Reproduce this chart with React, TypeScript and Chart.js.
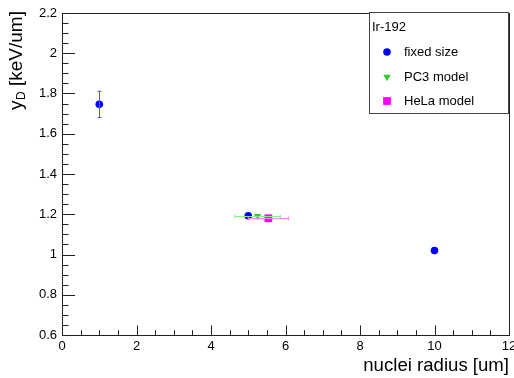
import React, { useEffect, useRef } from "react";
import { Chart, registerables } from "chart.js";

Chart.register(...registerables);

// ---- data ----
const fixedX = [1, 5, 10];
const fixedY = [1.746, 1.192, 1.02];
const fixedYErr = [0.065, 0, 0];

const pc3X = [5.25];
const pc3Y = [1.19];
const pc3XErr = [0.61];

const helaX = [5.54];
const helaY = [1.18];
const helaXErr = [0.54];

const xTickValues = [0, 2, 4, 6, 8, 10, 12];
const yTickValues = [0.6, 0.8, 1, 1.2, 1.4, 1.6, 1.8, 2, 2.2];

const legendTitle = "Ir-192";
const seriesLabels = ["fixed size", "PC3 model", "HeLa model"];
const xTitle = "nuclei radius [um]";

const FONT = "'Liberation Sans', Arial, Helvetica, sans-serif";
const BLUE = "#0000ff";
const GREEN = "#33cc33";
const MAGENTA = "#ff00ff";

const errorBarPlugin = {
  id: "errorBars",
  afterDatasetsDraw(chart: any) {
    const { ctx, scales } = chart;
    const xs = scales.x;
    const ys = scales.y;
    ctx.save();
    ctx.lineWidth = 1;
    ctx.strokeStyle = "#4f4fff";
    fixedX.forEach((x, i) => {
      const e = fixedYErr[i];
      if (!e) return;
      const px = Math.round(xs.getPixelForValue(x)) + 0.5;
      const top = ys.getPixelForValue(fixedY[i] + e);
      const bot = ys.getPixelForValue(fixedY[i] - e);
      ctx.beginPath();
      ctx.moveTo(px, top);
      ctx.lineTo(px, bot);
      ctx.moveTo(px - 2, top);
      ctx.lineTo(px + 2, top);
      ctx.moveTo(px - 2, bot);
      ctx.lineTo(px + 2, bot);
      ctx.stroke();
    });
    const horiz = (xv: number[], yv: number[], ev: number[], color: string) => {
      ctx.strokeStyle = color;
      xv.forEach((x, i) => {
        const py = Math.round(ys.getPixelForValue(yv[i])) + 0.5;
        const l = xs.getPixelForValue(x - ev[i]);
        const r = xs.getPixelForValue(x + ev[i]);
        ctx.beginPath();
        ctx.moveTo(l, py);
        ctx.lineTo(r, py);
        ctx.moveTo(l, py - 2);
        ctx.lineTo(l, py + 2);
        ctx.moveTo(r, py - 2);
        ctx.lineTo(r, py + 2);
        ctx.stroke();
      });
    };
    horiz(pc3X, pc3Y, pc3XErr, "#88ee88");
    horiz(helaX, helaY, helaXErr, "#ff88ff");
    ctx.restore();
  },
};

const framePlugin = {
  id: "rootFrame",
  beforeDatasetsDraw(chart: any) {
    const { ctx, chartArea, scales } = chart;
    const { left, right, top, bottom } = chartArea;
    ctx.save();
    ctx.strokeStyle = "#222";
    ctx.lineWidth = 1;
    ctx.strokeRect(left + 0.5, top + 0.5, right - left, bottom - top);
    ctx.beginPath();
    const ys = scales.y;
    for (let k = 0; k <= 32; k++) {
      const v = 0.6 + k * 0.05;
      const py = Math.round(ys.getPixelForValue(v)) + 0.5;
      const len = k % 4 === 0 ? 13 : 6.5;
      ctx.moveTo(left, py);
      ctx.lineTo(left + len, py);
    }
    const xs = scales.x;
    for (let k = 0; k <= 24; k++) {
      const v = k * 0.5;
      const px = Math.round(xs.getPixelForValue(v)) + 0.5;
      const len = k % 4 === 0 ? 9.5 : 4.8;
      ctx.moveTo(px, bottom);
      ctx.lineTo(px, bottom - len);
    }
    ctx.stroke();
    ctx.restore();
  },
  afterDraw(chart: any) {
    const { ctx } = chart;
    ctx.save();
    ctx.translate(21.5, 110);
    ctx.rotate(-Math.PI / 2);
    ctx.fillStyle = "#000";
    ctx.textBaseline = "alphabetic";
    ctx.textAlign = "left";
    ctx.font = `19px ${FONT}`;
    ctx.fillText("y", 0, 0);
    let w = ctx.measureText("y").width;
    ctx.font = `12px ${FONT}`;
    ctx.fillText("D", w + 0.5, 3.5);
    w += ctx.measureText("D").width + 0.5;
    ctx.font = `19px ${FONT}`;
    ctx.fillText(" [keV/um]", w, 0);
    ctx.restore();

    ctx.save();
    const bx = 369.5, by = 12.5, bw = 139, bh = 101;
    ctx.fillStyle = "#fff";
    ctx.fillRect(bx, by, bw, bh);
    ctx.strokeStyle = "#444";
    ctx.lineWidth = 1;
    ctx.strokeRect(bx, by, bw, bh);
    ctx.fillStyle = "#000";
    ctx.font = `13px ${FONT}`;
    ctx.textBaseline = "middle";
    ctx.textAlign = "left";
    ctx.fillText(legendTitle, 372, 27);
    const rows = [52, 77, 101];
    chart.data.datasets.forEach((ds: any, i: number) => {
      const y = rows[i];
      ctx.fillStyle = "#000";
      ctx.fillText(seriesLabels[i], 404, y);
      ctx.fillStyle = ds.backgroundColor;
      const style = ds.pointStyle;
      ctx.beginPath();
      if (style === "circle") {
        ctx.arc(387, y, ds.pointRadius, 0, Math.PI * 2);
      } else if (style === "triangle") {
        const r = ds.pointRadius;
        ctx.moveTo(387, y + r);
        ctx.lineTo(387 - r * 0.866, y - r / 2);
        ctx.lineTo(387 + r * 0.866, y - r / 2);
        ctx.closePath();
      } else {
        const s = ds.pointRadius * Math.SQRT1_2;
        ctx.rect(387 - s, y - s, 2 * s, 2 * s);
      }
      ctx.fill();
    });
    ctx.restore();
  },
};

export default function App() {
  const ref = useRef<HTMLCanvasElement>(null);
  useEffect(() => {
    document.body.style.margin = "0";
    const canvas = ref.current;
    if (!canvas) return;
    const chart = new Chart(canvas, {
      type: "scatter",
      data: {
        datasets: [
          {
            label: seriesLabels[0],
            data: fixedX.map((x, i) => ({ x, y: fixedY[i] })),
            pointStyle: "circle",
            pointRadius: 3.8,
            backgroundColor: BLUE,
            borderWidth: 0,
          },
          {
            label: seriesLabels[1],
            data: pc3X.map((x, i) => ({ x, y: pc3Y[i] })),
            pointStyle: "triangle",
            pointRotation: 180,
            pointRadius: 4.3,
            backgroundColor: GREEN,
            borderWidth: 0,
          },
          {
            label: seriesLabels[2],
            data: helaX.map((x, i) => ({ x, y: helaY[i] })),
            pointStyle: "rect",
            pointRadius: 5.5,
            backgroundColor: MAGENTA,
            borderWidth: 0,
          },
        ] as any,
      },
      options: {
        animation: false,
        responsive: false,
        devicePixelRatio: 1,
        layout: { autoPadding: false, padding: { top: 13, right: 5, left: 0, bottom: 0 } } as any,
        plugins: { legend: { display: false }, tooltip: { enabled: false } },
        scales: {
          x: {
            type: "linear",
            min: 0,
            max: 12,
            afterBuildTicks: (s: any) => {
              s.ticks = xTickValues.map((v) => ({ value: v }));
            },
            afterFit: (s: any) => {
              s.height = 43;
              s.paddingLeft = 0;
              s.paddingRight = 0;
            },
            grid: { display: false, drawTicks: false },
            border: { display: false },
            ticks: {
              color: "#000",
              font: { family: FONT, size: 13 },
              padding: 4,
              maxRotation: 0,
              autoSkip: false,
            },
            title: {
              display: true,
              text: xTitle,
              align: "end",
              color: "#000",
              font: { family: FONT, size: 18.6 },
              padding: { top: 0, bottom: 1 },
            },
          },
          y: {
            type: "linear",
            min: 0.6,
            max: 2.2,
            afterBuildTicks: (s: any) => {
              s.ticks = yTickValues.map((v) => ({ value: v }));
            },
            afterFit: (s: any) => {
              s.width = 62;
              s.paddingTop = 0;
              s.paddingBottom = 0;
            },
            grid: { display: false, drawTicks: false },
            border: { display: false },
            ticks: {
              color: "#000",
              font: { family: FONT, size: 13 },
              padding: 5,
              autoSkip: false,
              callback: (v: any) => String(Number(Number(v).toFixed(2))),
            },
          },
        },
      } as any,
      plugins: [framePlugin, errorBarPlugin],
    });
    return () => chart.destroy();
  }, []);
  return (
    <div style={{ position: "absolute", left: 0, top: 0, width: 514, height: 378, background: "#fff" }}>
      <canvas ref={ref} width={514} height={378} style={{ width: 514, height: 378, display: "block" }} />
    </div>
  );
}
